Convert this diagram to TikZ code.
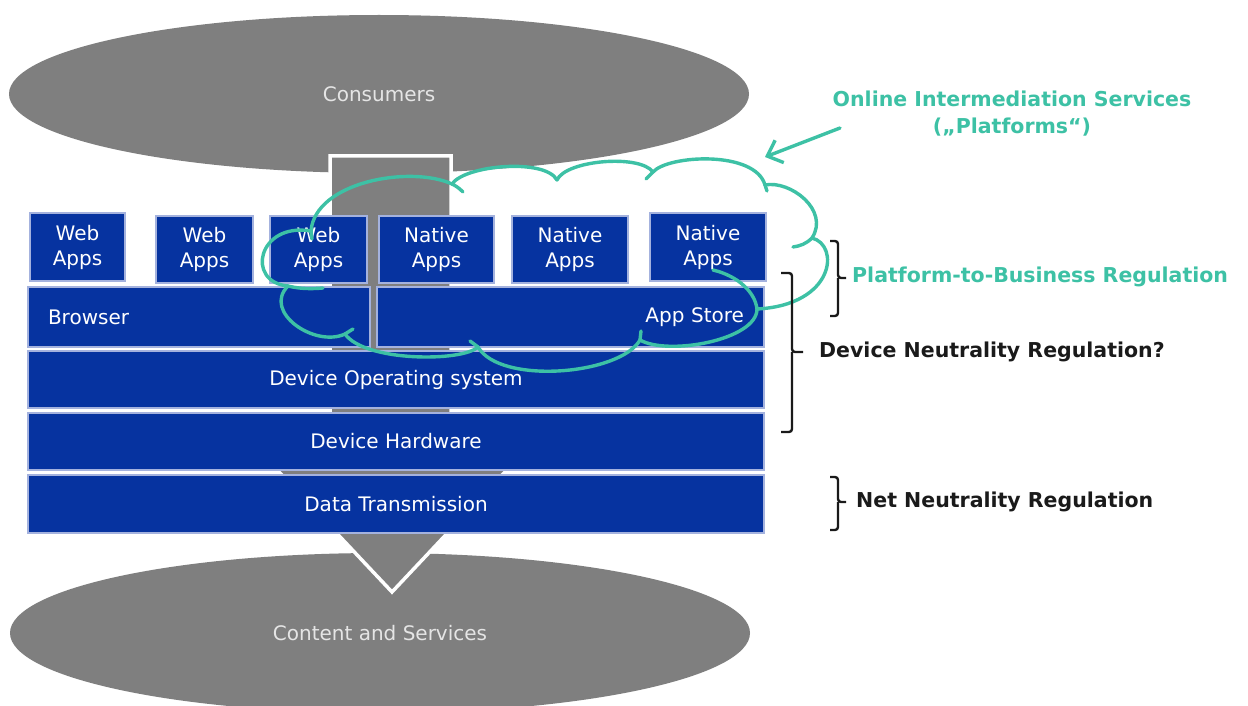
\documentclass[tikz,border=0pt]{standalone}
\usepackage{fontspec}
\setmainfont{DejaVu Sans}
\usetikzlibrary{calc,arrows.meta,shapes.geometric}

\definecolor{stackblue}{HTML}{0633A0}
\definecolor{edgeblue}{HTML}{A4B2DE}
\definecolor{ovalgray}{HTML}{7F7F7F}
\definecolor{platteal}{HTML}{3DC1A5}
\definecolor{labelink}{HTML}{1A1A1A}

\begin{document}
\begin{tikzpicture}[x=1pt,y=-1pt,
  every node/.style={font=\fontsize{20}{25}\selectfont},
  oval/.style={ellipse, fill=ovalgray, text=white!90!black,
    minimum width=740pt, minimum height=158pt, inner sep=0pt},
  layer/.style={rectangle, fill=stackblue, draw=edgeblue, line width=1.8pt,
    text=white, inner sep=0pt},
  appbox/.style={layer, align=center},
  cloudline/.style={draw=platteal, line width=3.4pt, line cap=round, line join=round},
  bracket/.style={draw=labelink, line width=2.4pt, rounded corners=3pt},
  reglabel/.style={anchor=west, inner sep=0pt,
    font=\fontsize{20.5}{25}\selectfont\bfseries}
]
\fill[white] (0,0) rectangle (1248,706);
\useasboundingbox (0,0) rectangle (1248,706);

% end points of the stack
\node[oval] (consumers) at (379,94) {Consumers};
\node[oval, minimum height=160pt] (content) at (380,633) {Content and Services};

% grey flow arrow running through the stack
\path[fill=ovalgray, draw=white, line width=3.5pt, line join=miter]
  (330,156) -- (451,156) -- (451,455) -- (521,455) -- (392,592)
  -- (263,455) -- (330,455) -- cycle;

% application row
\node[appbox, minimum width=95pt,  minimum height=68pt] (web1) at (77.5,247) {Web\\Apps};
\node[appbox, minimum width=97pt,  minimum height=67pt] (web2) at (204.5,249.5) {Web\\Apps};
\node[appbox, minimum width=97pt,  minimum height=67pt] (web3) at (318.5,249.5) {Web\\Apps};
\node[appbox, minimum width=115pt, minimum height=67pt] (nat1) at (436.5,249.5) {Native\\Apps};
\node[appbox, minimum width=116pt, minimum height=67pt] (nat2) at (570,249.5) {Native\\Apps};
\node[appbox, minimum width=116pt, minimum height=68pt] (nat3) at (708,247) {Native\\Apps};

% platform layers
\node[layer, minimum width=342pt, minimum height=60pt, text width=302pt, align=left]
  (browser) at (199,317) {Browser};
\node[layer, minimum width=387pt, minimum height=60pt, text width=347pt, align=right]
  (appstore) at (570.5,317) {App Store};
\node[layer, minimum width=736pt, minimum height=57pt] (os) at (396,379.5) {Device Operating system};
\node[layer, minimum width=736pt, minimum height=57pt] (hw) at (396,441.5) {Device Hardware};
\node[layer, minimum width=736pt, minimum height=58pt] (dt) at (396,504) {Data Transmission};

% intermediation cloud
\draw[cloudline] (311,231)
  .. controls (315,182) and (410,165) .. (452,184)
  .. controls (465,165) and (545,158) .. (557,180)
  .. controls (566,160) and (640,154) .. (653,172)
  .. controls (668,155) and (755,150) .. (765,185)
  .. controls (790,180) and (830,210) .. (812,238)
  .. controls (840,245) and (835,305) .. (757,309)
  .. controls (757,340) and (668,356) .. (640,340)
  .. controls (620,375) and (500,385) .. (478,347)
  .. controls (462,362) and (365,362) .. (345,334)
  .. controls (315,348) and (262,312) .. (288,286)
  .. controls (245,282) and (258,222) .. (311,231);
% inner curls of the cloud
\draw[cloudline] (452,184) .. controls (456,186) and (459,188) .. (463,192);
\draw[cloudline] (653,172) -- (646,179);
\draw[cloudline] (765,185) -- (767,191);
\draw[cloudline] (812,238) .. controls (806,244) and (800,246) .. (793,247);
\draw[cloudline] (757,309) .. controls (755,292) and (738,276) .. (713,270);
\draw[cloudline] (640,340) -- (641,331);
\draw[cloudline] (478,347) -- (470,341);
\draw[cloudline] (345,334) -- (353,329);
\draw[cloudline] (288,286) .. controls (300,289) and (312,289) .. (323,288);
\draw[cloudline] (311,231) -- (312,239);

% platform note and its pointer
\node[font=\fontsize{20.5}{27}\selectfont\bfseries, text=platteal, align=center, inner sep=0pt]
  (platformsnote) at (1012,114) {Online Intermediation Services\\(„Platforms“)};
\coordinate (notefoot) at (840,128);
\coordinate (cloudtop) at (765,157);
\draw[cloudline, -{Straight Barb[length=13pt,width=24pt]}] (notefoot) -- (cloudtop);

% regulation brackets
\draw[bracket] (830,241) -| (838,278) -- (846,278) (838,278) |- (830,316);
\draw[bracket] (781,273) -| (792,352) -- (803,352) (792,352) |- (781,432);
\draw[bracket] (830,477) -| (838,502) -- (846,502) (838,502) |- (830,530);

\node[reglabel, text=platteal] (p2b) at (852,277) {Platform-to-Business Regulation};
\node[reglabel, text=labelink] (devneutral) at (819,352) {Device Neutrality Regulation?};
\node[reglabel, text=labelink] (netneutral) at (856,502) {Net Neutrality Regulation};
\end{tikzpicture}
\end{document}
